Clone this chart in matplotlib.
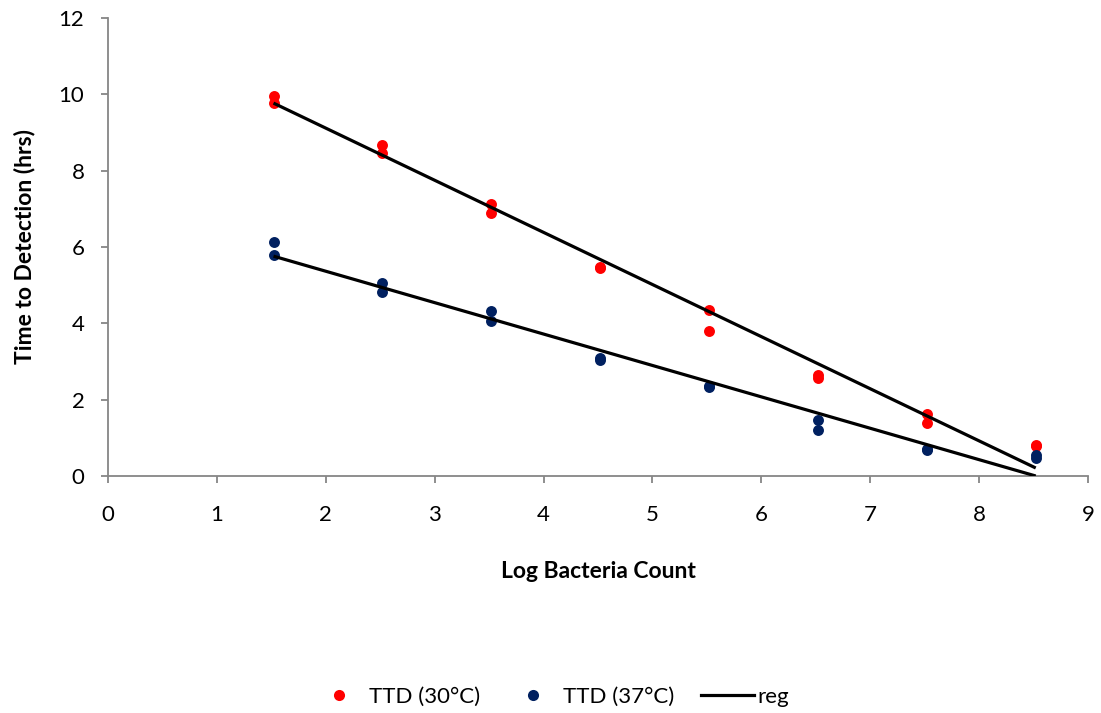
import matplotlib
matplotlib.use("Agg")
import matplotlib.pyplot as plt
from matplotlib.lines import Line2D

# Log bacteria count at each dilution step
log_count = [1.52, 2.52, 3.52, 4.52, 5.52, 6.52, 7.52, 8.52]

# Time to detection (hrs), two replicates per dilution
ttd30_a = [9.96, 8.67, 7.13, 5.47, 4.35, 2.65, 1.62, 0.81]
ttd30_b = [9.77, 8.46, 6.89, 5.44, 3.80, 2.57, 1.39, 0.78]
ttd37_a = [6.13, 5.06, 4.32, 3.09, 2.35, 1.47, 0.71, 0.55]
ttd37_b = [5.79, 4.82, 4.06, 3.04, 2.33, 1.21, 0.69, 0.47]

# Regression line end points
reg_x = [1.52, 8.52]
reg30 = [9.77, 0.21]
reg37 = [5.76, 0.00]

x_ticks = list(range(0, 10))
y_ticks = list(range(0, 13, 2))

plt.rcParams["font.family"] = ["Lato", "DejaVu Sans"]

RED = "#FF0000"
NAVY = "#002060"
GREY = "#868686"

fig = plt.figure(figsize=(11.01, 7.13), dpi=100)
ax = fig.add_axes([108 / 1101, 1 - 476 / 713, (1088 - 108) / 1101, (476 - 18) / 713])

ms = 62
ax.scatter(log_count + log_count, ttd30_a + ttd30_b, s=ms, color=RED, zorder=3, linewidths=0)
ax.scatter(log_count + log_count, ttd37_a + ttd37_b, s=ms, color=NAVY, zorder=3, linewidths=0)
ax.plot(reg_x, reg30, color="black", lw=2.3, zorder=4, solid_capstyle="butt")
ax.plot(reg_x, reg37, color="black", lw=2.3, zorder=4, solid_capstyle="butt")

ax.set_xlim(0, 9)
ax.set_ylim(0, 12)
ax.set_xticks(x_ticks)
ax.set_yticks(y_ticks)

for side in ("top", "right"):
    ax.spines[side].set_visible(False)
for side in ("left", "bottom"):
    ax.spines[side].set_color(GREY)
    ax.spines[side].set_linewidth(1.3)

ax.tick_params(axis="x", direction="out", length=5, width=1.3, color=GREY,
               labelsize=16, pad=16, labelcolor="black")
ax.tick_params(axis="y", direction="out", length=5, width=1.3, color=GREY,
               labelsize=16, pad=12, labelcolor="black")

ax.set_xlabel("Log Bacteria Count", fontsize=16.5, fontweight="bold", labelpad=26)
ax.set_ylabel("Time to Detection (hrs)", fontsize=16.5, fontweight="bold", labelpad=17)

handles = [
    Line2D([], [], ls="none", marker="o", ms=8, color=RED, mec="none"),
    Line2D([], [], ls="none", marker="o", ms=8, color=NAVY, mec="none"),
    Line2D([], [], color="black", lw=2.3),
]
labels = ["TTD (30°C)", "TTD (37°C)", "reg"]
fig.legend(handles, labels, loc="center", bbox_to_anchor=(0.500, 1 - 697 / 713),
           ncol=3, frameon=False, fontsize=16, handlelength=2.4,
           handletextpad=0.15, columnspacing=1.2)

fig.savefig("out.png", dpi=100)
